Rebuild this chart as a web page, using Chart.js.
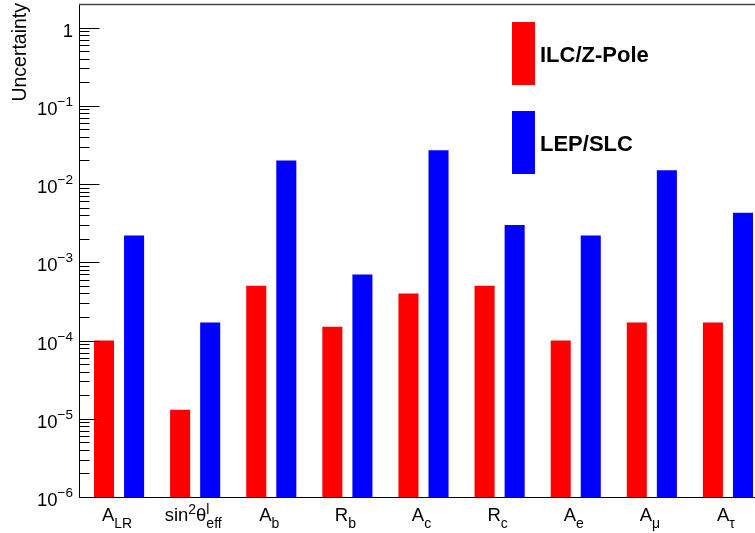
<!DOCTYPE html>
<html>
<head>
<meta charset="utf-8">
<title>Uncertainty comparison</title>
<script src="https://cdn.jsdelivr.net/npm/chart.js@4/dist/chart.umd.min.js"></script>
<style>
  html, body { margin: 0; padding: 0; background: #fff; overflow: hidden; }
  #wrap { width: 770px; height: 533px; }
</style>
</head>
<body>
<div id="wrap"><canvas id="c" width="770" height="533"></canvas></div>
<script>
// Observables (markup: ^{..} superscript, _{..} subscript)
const categories = ['A_{LR}', 'sin^{2}θ^{l}_{eff}', 'A_{b}', 'R_{b}', 'A_{c}', 'R_{c}', 'A_{e}', 'A_{μ}', 'A_{τ}'];

// Relative uncertainties per observable
const ilcZPole = [1.0e-4, 1.3e-5, 5.0e-4, 1.5e-4, 4.0e-4, 5.0e-4, 1.0e-4, 1.7e-4, 1.7e-4];
const lepSlc   = [2.2e-3, 1.7e-4, 2.0e-2, 7.0e-4, 2.7e-2, 3.0e-3, 2.2e-3, 1.5e-2, 4.3e-3];

const seriesNames = ['ILC/Z-Pole', 'LEP/SLC'];
const seriesColors = ['#ff0000', '#0000ff'];

// Decade ticks of the logarithmic axis and their labels
const yTickValues = [1e-6, 1e-5, 1e-4, 1e-3, 1e-2, 1e-1, 1];
const yTickLabels = ['10^{−6}', '10^{−5}', '10^{−4}', '10^{−3}', '10^{−2}', '10^{−1}', '1'];
const yMin = 1e-6;
const yMax = 2;
const yAxisTitle = 'Uncertainty';

const FONT = "'Liberation Sans', Arial, Helvetica, sans-serif";

// Split a label into plain runs and stacked super/subscript groups
function parseRich(s) {
  const out = [];
  let i = 0;
  while (i < s.length) {
    const ch = s[i];
    if (ch === '^' || ch === '_') {
      const kind = ch === '^' ? 'sup' : 'sub';
      const end = s.indexOf('}', i + 2);
      const txt = s.slice(i + 2, end);
      const last = out[out.length - 1];
      if (last && last.type === 'script' && last[kind] === undefined) last[kind] = txt;
      else out.push({ type: 'script', [kind]: txt });
      i = end + 1;
    } else {
      let j = i;
      while (j < s.length && s[j] !== '^' && s[j] !== '_') j++;
      out.push({ type: 'text', text: s.slice(i, j) });
      i = j;
    }
  }
  return out;
}
const plainLabel = s => s.replace(/[\^_]\{([^}]*)\}/g, '$1');

function richWidth(ctx, parts, size, scriptSize) {
  let w = 0;
  for (const p of parts) {
    if (p.type === 'text') {
      ctx.font = size + 'px ' + FONT;
      w += ctx.measureText(p.text).width;
    } else {
      ctx.font = scriptSize + 'px ' + FONT;
      const a = p.sup ? ctx.measureText(p.sup).width : 0;
      const b = p.sub ? ctx.measureText(p.sub).width : 0;
      w += Math.max(a, b);
    }
  }
  return w;
}

function drawRich(ctx, s, x, baseline, align, size, scriptSize, supShift, subShift) {
  const parts = parseRich(s);
  const w = richWidth(ctx, parts, size, scriptSize);
  let cx = align === 'right' ? x - w : align === 'center' ? x - w / 2 : x;
  ctx.textAlign = 'left';
  ctx.textBaseline = 'alphabetic';
  for (const p of parts) {
    if (p.type === 'text') {
      ctx.font = size + 'px ' + FONT;
      ctx.fillText(p.text, cx, baseline);
      cx += ctx.measureText(p.text).width;
    } else {
      ctx.font = scriptSize + 'px ' + FONT;
      let adv = 0;
      if (p.sup) { ctx.fillText(p.sup, cx, baseline - supShift); adv = Math.max(adv, ctx.measureText(p.sup).width); }
      if (p.sub) { ctx.fillText(p.sub, cx, baseline + subShift); adv = Math.max(adv, ctx.measureText(p.sub).width); }
      cx += adv;
    }
  }
}

// Frame, inward ticks, axis labels, title and legend in the ROOT style
const rootStyle = {
  id: 'rootStyle',
  afterDraw(chart) {
    const ctx = chart.ctx;
    const area = chart.chartArea;
    const xs = chart.scales.x;
    const ys = chart.scales.y;
    const axisX = area.left - 1.5;
    ctx.save();

    // frame
    ctx.strokeStyle = '#000';
    ctx.lineWidth = 1;
    ctx.beginPath();
    ctx.moveTo(axisX, area.top);
    ctx.lineTo(axisX, area.bottom + 0.5);
    ctx.lineTo(area.right + 5, area.bottom + 0.5);
    ctx.stroke();
    ctx.strokeStyle = '#444';
    ctx.lineWidth = 1.5;
    ctx.beginPath();
    ctx.moveTo(axisX - 0.5, area.top + 0.5);
    ctx.lineTo(area.right + 5, area.top + 0.5);
    ctx.stroke();

    // ticks on the log axis, pointing into the plot
    ctx.strokeStyle = '#000';
    ctx.lineWidth = 1;
    ys.ticks.forEach((t, i) => {
      const y = Math.round(ys.getPixelForValue(t.value)) + 0.5;
      const len = t.major ? 20 : 10;
      ctx.beginPath();
      ctx.moveTo(axisX, y);
      ctx.lineTo(axisX + len, y);
      ctx.stroke();
    });

    // y tick labels
    ctx.fillStyle = '#000';
    yTickValues.forEach((v, i) => {
      const y = ys.getPixelForValue(v);
      drawRich(ctx, yTickLabels[i], 73, y + 9, 'right', 18.5, 13.5, 9, 6);
    });

    // x category labels
    categories.forEach((c, i) => {
      const x = xs.getPixelForValue(i) - 2;
      drawRich(ctx, c, x, 521, 'center', 18.5, 14, 7.5, 6.5);
    });

    // y axis title, right-aligned at the top of the axis
    ctx.save();
    ctx.translate(26, 3);
    ctx.rotate(-Math.PI / 2);
    ctx.font = '19.5px ' + FONT;
    ctx.textAlign = 'right';
    ctx.textBaseline = 'alphabetic';
    ctx.fillText(yAxisTitle, 0, 0);
    ctx.restore();

    // legend
    const lg = chart.options.plugins.rootStyle;
    chart.data.datasets.forEach((ds, i) => {
      const top = lg.top + i * lg.step;
      ctx.fillStyle = ds.backgroundColor;
      ctx.fillRect(lg.left, top, lg.boxW, lg.boxH);
      ctx.fillStyle = '#000';
      ctx.font = 'bold 22px ' + FONT;
      ctx.textAlign = 'left';
      ctx.textBaseline = 'alphabetic';
      ctx.fillText(ds.label, lg.left + lg.boxW + 5, top + lg.boxH / 2 + 8);
    });

    ctx.restore();
  }
};

new Chart(document.getElementById('c'), {
  type: 'bar',
  data: {
    labels: categories.map(plainLabel),
    datasets: [
      { label: seriesNames[0], data: ilcZPole, backgroundColor: seriesColors[0], borderWidth: 0,
        barPercentage: 0.667, categoryPercentage: 0.79 },
      { label: seriesNames[1], data: lepSlc, backgroundColor: seriesColors[1], borderWidth: 0,
        barPercentage: 0.667, categoryPercentage: 0.79 }
    ]
  },
  options: {
    responsive: false,
    animation: false,
    devicePixelRatio: 1,
    layout: { padding: { left: 81, right: 4, top: 4, bottom: 36 } },
    scales: {
      x: { type: 'category', display: false, offset: true },
      y: {
        type: 'logarithmic', display: false, min: yMin, max: yMax,
        ticks: { autoSkip: false },
        afterBuildTicks(scale) {
          const ticks = [];
          yTickValues.forEach(d => {
            for (let m = 1; m <= 9; m++) {
              const v = m * d;
              if (v < yMax * 0.999) ticks.push({ value: v, major: m === 1 });
            }
          });
          scale.ticks = ticks;
        }
      }
    },
    plugins: {
      legend: { display: false },
      tooltip: { enabled: false },
      rootStyle: { left: 512, top: 22, step: 89, boxW: 23, boxH: 63 }
    }
  },
  plugins: [rootStyle]
});
</script>
</body>
</html>
